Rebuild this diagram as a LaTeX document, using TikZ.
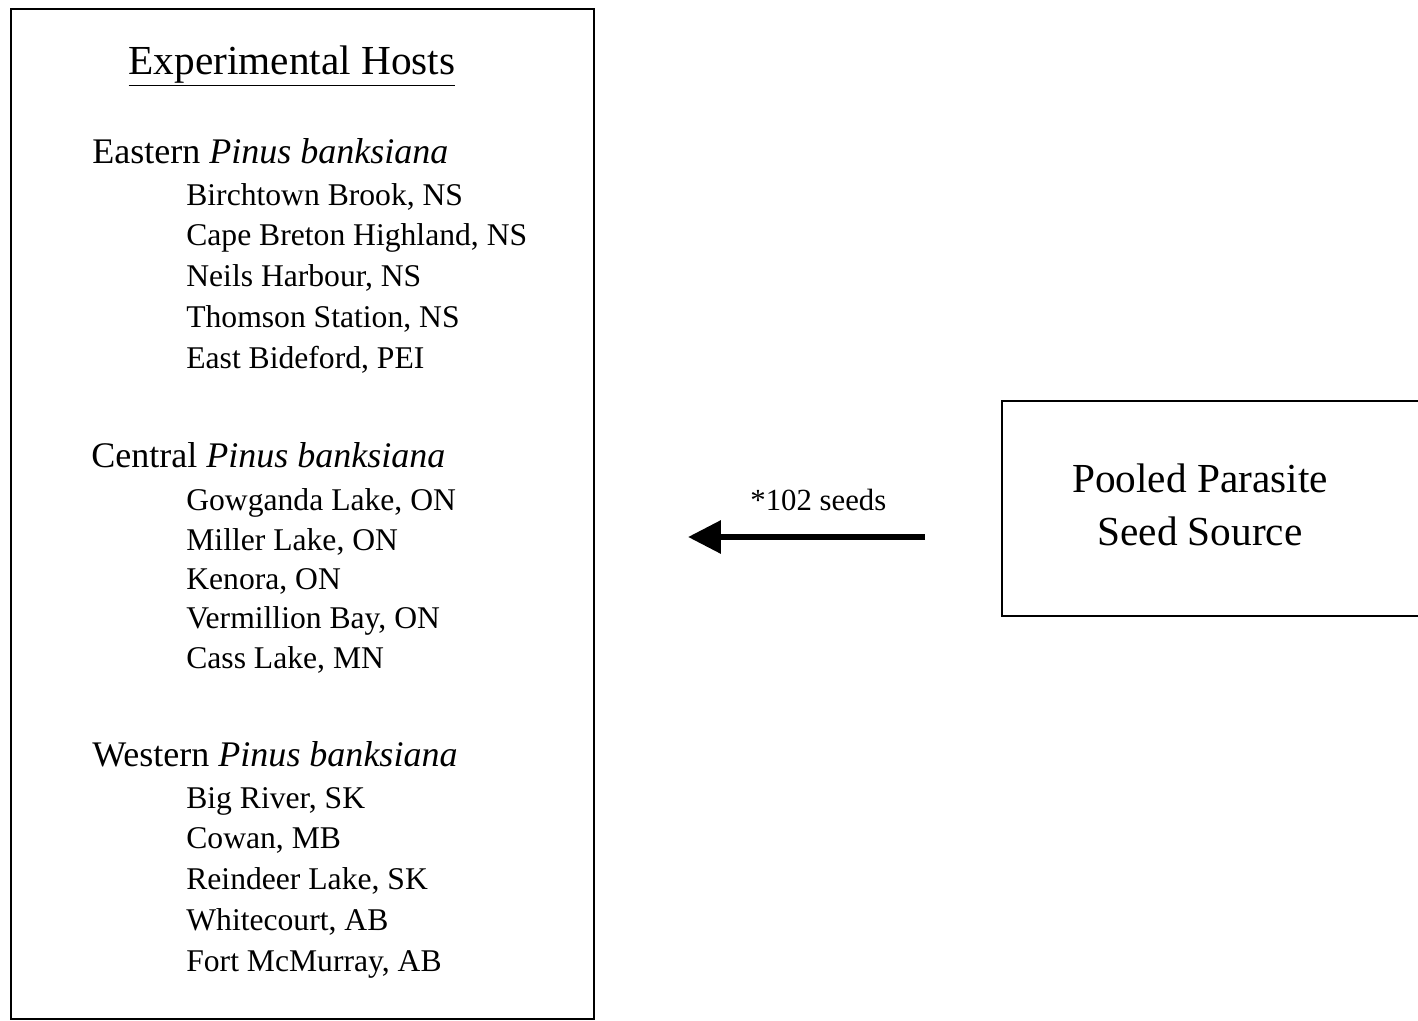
\documentclass[tikz,border=0pt]{standalone}
\usepackage{fontspec}
\setmainfont{Liberation Serif}
\usetikzlibrary{arrows.meta,positioning}
\tikzset{%
	hostbox/.style  = {draw, rectangle, line width=1.3pt, minimum width=11.66cm, minimum height=20.2cm},
	srcbox/.style   = {draw, rectangle, line width=1.3pt, minimum width=8.4cm, minimum height=4.3cm},
	heading/.style  = {anchor=base, inner sep=0pt, font=\fontsize{23.5}{28}\selectfont},
	region/.style   = {anchor=base west, inner sep=0pt, font=\fontsize{20.5}{24}\selectfont},
	site/.style     = {anchor=base west, inner sep=0pt, font=\fontsize{18}{22}\selectfont},
	srctext/.style  = {align=center, inner sep=0pt, font=\fontsize{23.5}{30.5}\selectfont},
	seedlabel/.style= {inner sep=0pt, font=\fontsize{17.5}{21}\selectfont},
	seedarrow/.style= {line width=3.6pt, -{Triangle[length=6.6mm,width=6.4mm]}},
}

\begin{document}
\begin{tikzpicture}[x=0.02cm,y=-0.02cm]
	\useasboundingbox (0,0) rectangle (1418,1021);
	% hosts
	\node [hostbox] (hosts) at (302.5,514) {};
	\node [heading] (title) at (292,74) {\underline{Experimental Hosts}};
	
	\node [region] (east) at (92,163) {Eastern \textit{Pinus banksiana}};
	\node [site] (e1) at (186,205) {Birchtown Brook, NS};
	\node [site] (e2) at (186,245) {Cape Breton Highland, NS};
	\node [site] (e3) at (186,286) {Neils Harbour, NS};
	\node [site] (e4) at (186,327) {Thomson Station, NS};
	\node [site] (e5) at (186,368) {East Bideford, PEI};
	
	\node [region] (central) at (91,467) {Central \textit{Pinus banksiana}};
	\node [site] (c1) at (186,510) {Gowganda Lake, ON};
	\node [site] (c2) at (186,550) {Miller Lake, ON};
	\node [site] (c3) at (186,589) {Kenora, ON};
	\node [site] (c4) at (186,628) {Vermillion Bay, ON};
	\node [site] (c5) at (186,668) {Cass Lake, MN};
	
	\node [region] (west) at (92,766) {Western \textit{Pinus banksiana}};
	\node [site] (w1) at (186,808) {Big River, SK};
	\node [site] (w2) at (186,848) {Cowan, MB};
	\node [site] (w3) at (186,889) {Reindeer Lake, SK};
	\node [site] (w4) at (186,930) {Whitecourt, AB};
	\node [site] (w5) at (186,971) {Fort McMurray, AB};
	
	% seed source
	\node [srcbox] (source) at (1212,508.5) {};
	\node [srctext] (srcname) at (1200,505) {Pooled Parasite\\Seed Source};
	
	\coordinate (tail) at (925,537);
	\coordinate (tip) at (688,537);
	\draw [seedarrow] (tail) -- node[seedlabel,above=13pt,pos=0.45] (seeds) {*102 seeds} (tip);
\end{tikzpicture}
\end{document}
